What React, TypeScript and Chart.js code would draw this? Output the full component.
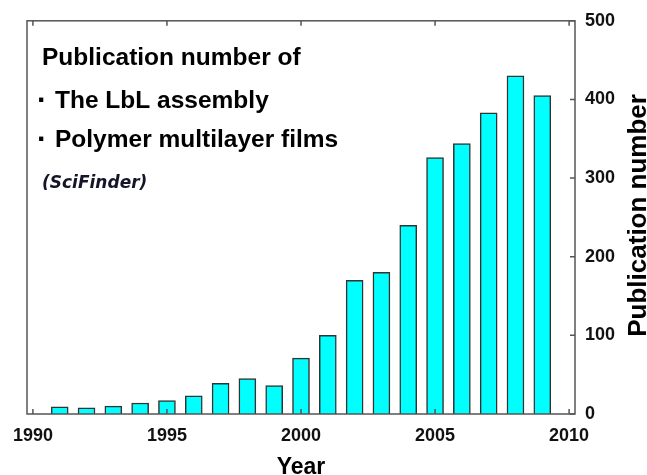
import { useEffect, useRef } from 'react';
import { Chart, registerables } from 'chart.js';

Chart.register(...registerables);

const YEARS = [1991, 1992, 1993, 1994, 1995, 1996, 1997, 1998, 1999, 2000, 2001, 2002, 2003, 2004, 2005, 2006, 2007, 2008, 2009];
const PUBLICATIONS = [9, 8, 10, 14, 17, 23, 39, 45, 36, 71, 100, 170, 180, 240, 326, 344, 383, 430, 405];
const X_TICKS = [1990, 1995, 2000, 2005, 2010];
const Y_TICKS = [0, 100, 200, 300, 400, 500];
const NOTE_TITLE = 'Publication number of';
const NOTE_ITEMS = ['The LbL assembly', 'Polymer multilayer films'];
const NOTE_SOURCE = '(SciFinder)';
const X_TITLE = 'Year';
const Y_TITLE = 'Publication number';

const FONT = "'Liberation Sans', Arial, sans-serif";

const overlay = {
  id: 'overlay',
  afterDatasetsDraw(chart: any) {
    const { ctx, chartArea, scales } = chart;
    const { left, right, top, bottom } = chartArea;
    const x = scales.x;
    const y = scales.y;
    ctx.save();
    // frame
    ctx.strokeStyle = '#555555';
    ctx.lineWidth = 1.5;
    ctx.strokeRect(left, top, right - left, bottom - top);
    // inward ticks
    ctx.beginPath();
    X_TICKS.forEach((v) => {
      const px = x.getPixelForValue(v);
      ctx.moveTo(px, bottom);
      ctx.lineTo(px, bottom - 5);
      ctx.moveTo(px, top);
      ctx.lineTo(px, top + 5);
    });
    Y_TICKS.forEach((v) => {
      const py = y.getPixelForValue(v);
      ctx.moveTo(right, py);
      ctx.lineTo(right - 5, py);
    });
    ctx.stroke();

    // annotation text
    ctx.fillStyle = '#000000';
    ctx.textAlign = 'left';
    ctx.textBaseline = 'alphabetic';
    ctx.font = `bold 24.5px ${FONT}`;
    ctx.fillText(NOTE_TITLE, 42, 65);
    const baselines = [108, 147];
    NOTE_ITEMS.forEach((t, i) => {
      ctx.fillText(t, 55, baselines[i]);
    });
    ctx.font = `bold 30px ${FONT}`;
    NOTE_ITEMS.forEach((t, i) => {
      ctx.fillText('\u00B7', 37, baselines[i] + 2);
    });
    ctx.fillStyle = '#15152a';
    ctx.font = `italic bold 17px 'DejaVu Sans', sans-serif`;
    ctx.fillText(NOTE_SOURCE, 42, 188);

    // axis titles
    ctx.fillStyle = '#000000';
    ctx.font = `bold 23px ${FONT}`;
    ctx.textAlign = 'center';
    ctx.fillText(X_TITLE, (left + right) / 2, 474);

    ctx.translate(646, (top + bottom) / 2 - 2);
    ctx.rotate(-Math.PI / 2);
    ctx.font = `bold 26px ${FONT}`;
    ctx.textAlign = 'center';
    ctx.textBaseline = 'alphabetic';
    ctx.fillText(Y_TITLE, 0, 0);
    ctx.restore();
  },
};

export default function App() {
  const canvasRef = useRef<HTMLCanvasElement | null>(null);

  useEffect(() => {
    const canvas = canvasRef.current;
    if (!canvas) return;
    const chart = new Chart(canvas, {
      type: 'bar',
      data: {
        datasets: [
          {
            data: YEARS.map((yr, i) => ({ x: yr, y: PUBLICATIONS[i] })),
            backgroundColor: '#00FFFF',
            borderColor: '#333333',
            borderWidth: 1.5,
            barThickness: 17,
          } as any,
        ],
      },
      options: {
        responsive: false,
        animation: false,
        devicePixelRatio: 1,
        layout: { padding: { left: 27, top: 20, right: 0, bottom: 0 } },
        plugins: { legend: { display: false }, tooltip: { enabled: false } },
        scales: {
          x: {
            type: 'linear',
            offset: false,
            min: 1989.78,
            max: 2010.22,
            grid: { display: false, drawTicks: false, offset: false },
            border: { display: false },
            afterBuildTicks: (scale: any) => {
              scale.ticks = X_TICKS.map((v) => ({ value: v }));
            },
            afterFit: (scale: any) => {
              scale.height = 61;
            },
            ticks: {
              padding: 11,
              color: '#111111',
              font: { family: FONT, size: 18, weight: 'bold' },
              maxRotation: 0,
              autoSkip: false,
              callback: (v: any) => String(v),
            },
          },
          y: {
            type: 'linear',
            position: 'right',
            min: 0,
            max: 500,
            grid: { display: false, drawTicks: false },
            border: { display: false },
            afterBuildTicks: (scale: any) => {
              scale.ticks = Y_TICKS.map((v) => ({ value: v }));
            },
            afterFit: (scale: any) => {
              scale.width = 72;
            },
            ticks: {
              padding: 10,
              color: '#111111',
              font: { family: FONT, size: 18, weight: 'bold' },
              callback: (v: any) => String(v),
            },
          },
        },
      } as any,
      plugins: [overlay],
    });
    return () => chart.destroy();
  }, []);

  return (
    <div style={{ position: 'fixed', left: 0, top: 0, width: 647, height: 475, background: '#ffffff' }}>
      <canvas ref={canvasRef} width={647} height={475} style={{ display: 'block' }} />
    </div>
  );
}
